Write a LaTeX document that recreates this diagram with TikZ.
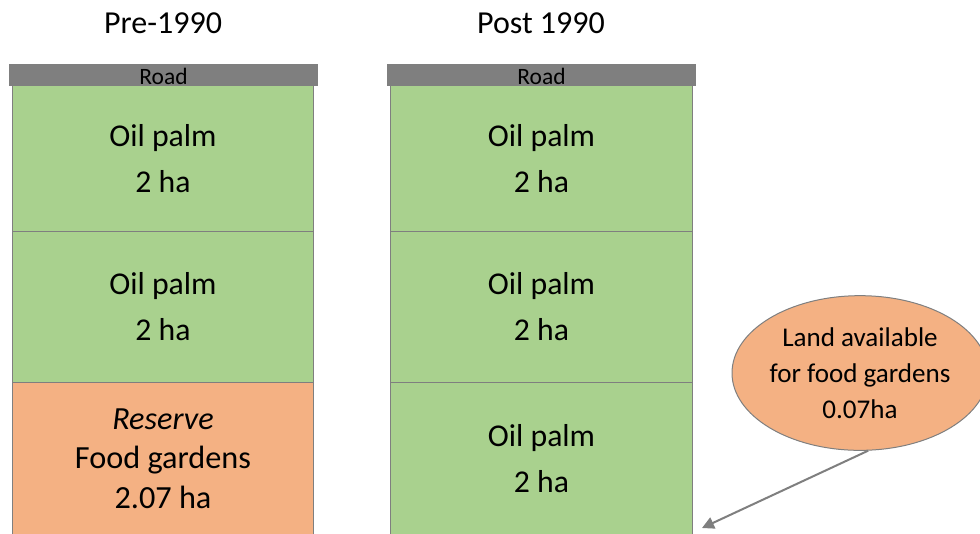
\documentclass[tikz,border=0pt]{standalone}
\usepackage{fontspec}
\setmainfont{Carlito}
\usetikzlibrary{shapes.geometric,arrows.meta}
\definecolor{palmgreen}{HTML}{A9D18E}
\definecolor{gardenorange}{HTML}{F4B183}
\definecolor{roadgray}{HTML}{7F7F7F}

\begin{document}
\begin{tikzpicture}[x=0.75pt,y=-0.75pt]
\tikzset{plot/.style={draw=roadgray, line width=0.75pt, minimum width=226pt, inner sep=0pt, align=center, font=\fontsize{23.8}{34.5}\selectfont},
  palm/.style={plot, fill=palmgreen},
  garden/.style={plot, fill=gardenorange, font=\fontsize{24.2}{29.5}\selectfont},
  road/.style={fill=roadgray, minimum width=231.75pt, minimum height=16.3pt, inner sep=0pt},
  roadname/.style={anchor=base, inner sep=0pt, font=\fontsize{17.6}{20}\selectfont},
  heading/.style={anchor=base, inner sep=0pt, font=\fontsize{24}{28}\selectfont},
  bubble/.style={ellipse, draw=roadgray, line width=0.75pt, fill=gardenorange, minimum width=192pt, minimum height=116pt, inner sep=0pt, align=center, font=\fontsize{20.3}{27}\selectfont},
  pointer/.style={draw=roadgray, line width=1.5pt, -{Triangle[length=9pt, width=9pt]}}}
\useasboundingbox (0,0) rectangle (980,533);

    % headings
    \node[heading] at (163,33) (pre) {Pre-1990};
    \node[heading] at (541,33) (post) {Post 1990};

    % pre-1990 plots
    \node[palm, minimum height=109.2pt] at (163,158.5) (pre1) {Oil palm\\2 ha};
    \node[palm, minimum height=113.25pt] at (163,306.8) (pre2) {Oil palm\\2 ha};
    \node[garden, minimum height=114.5pt] at (163,458.6) (pre3) {\textit{Reserve}\\Food gardens\\2.07 ha};

    % post 1990 plots
    \node[palm, minimum height=109.2pt] at (541.5,158.5) (post1) {Oil palm\\2 ha};
    \node[palm, minimum height=113.25pt] at (541.5,306.8) (post2) {Oil palm\\2 ha};
    \node[palm, minimum height=114.5pt] at (541.5,458.6) (post3) {Oil palm\\2 ha};

    % roads
    \node[road] at (163.5,74.8) (road1) {};
    \node[road] at (541.5,74.8) (road2) {};
    \node[roadname] at ([yshift=0.75pt]road1.south) (rname1) {Road};
    \node[roadname] at ([yshift=0.75pt]road2.south) (rname2) {Road};

    \node[bubble] at (860,373) (avail) {Land available\\for food gardens\\0.07ha};
    \coordinate (tip) at (702,528);
    \draw[pointer] (avail.-84) -- (tip);

  \end{tikzpicture}
\end{document}
